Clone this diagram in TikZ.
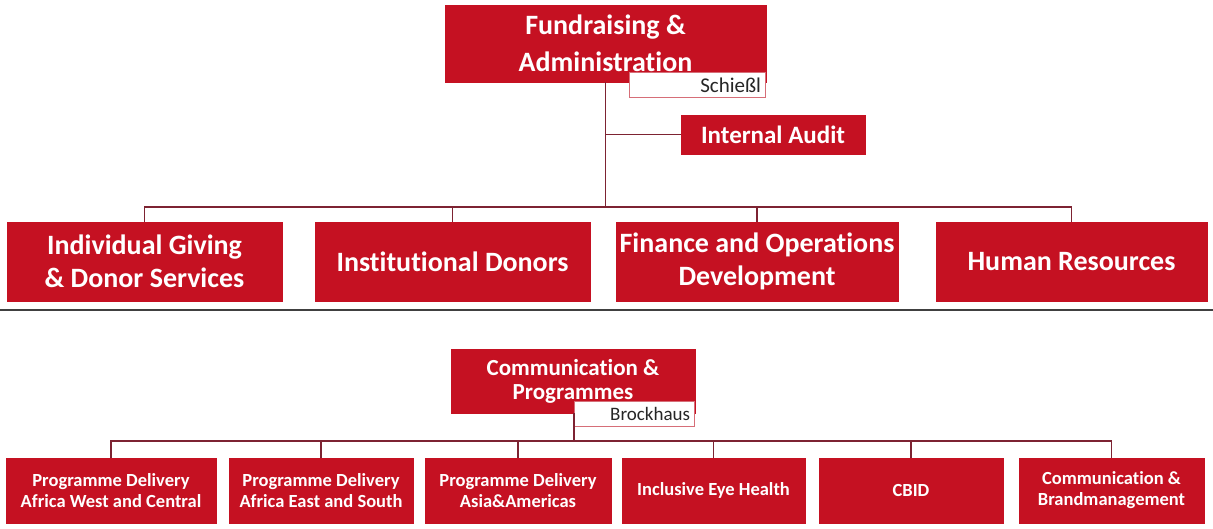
\documentclass[tikz,border=0pt]{standalone}
\usepackage{fontspec}
\setmainfont[Ligatures=CommonOff]{Carlito}
\usepackage{xcolor}
\usetikzlibrary{positioning,calc}
\definecolor{unitred}{RGB}{197,17,34}
\definecolor{linkred}{RGB}{125,35,50}
\definecolor{tagline}{RGB}{214,110,120}

\begin{document}
\begin{tikzpicture}[x=0.5pt, y=-0.5pt,
    unit/.style={draw=unitred, fill=unitred, text=white, font=\bfseries, align=center, inner sep=0pt},
    big/.style={font=\bfseries\fontsize{14}{16.5}\selectfont, minimum height=39.5pt},
    small/.style={font=\bfseries\fontsize{9.25}{10.5}\selectfont, minimum height=32.5pt},
    tag/.style={draw=tagline, fill=white, text=black!85, inner xsep=2pt, inner ysep=0pt, align=right, minimum height=12.5pt},
    link/.style={draw=linkred, line width=0.9pt}
]
    \useasboundingbox (0,0) rectangle (1213,529);

    % Fundraising & Administration
    \node [unit, minimum width=160.5pt, minimum height=38.5pt, font=\bfseries\fontsize{14}{18.5}\selectfont] (fund) at (605.5,43.5) {Fundraising \&\\Administration};
    \node [tag, text width=64pt, font=\fontsize{10.5}{12}\selectfont] (schiessl) at (697,85) {Schießl};
    \node [unit, minimum width=92pt, minimum height=19.5pt, font=\bfseries\fontsize{12.5}{15}\selectfont] (audit) at (773,134.5) {Internal Audit};
    \coordinate (busA) at (605.5,207);
    \draw [link] (fund.south) -- (busA);
    \draw [link] (fund.south |- audit.west) -- (audit.west);

    % Departments top
    \foreach \name/\x/\w/\label in {igds/144.5/137.5pt/{Individual Giving\\\& Donor Services}, insd/452.5/137.5pt/{Institutional Donors}, fin/757/141pt/{Finance and Operations\\Development}, hr/1071.5/135.5pt/{Human Resources}} {
        \node [unit, big, minimum width=\w] (\name) at (\x,261.5) {\label};
        \draw [link] (busA) -| (\name.north);
    }

    % Separator
    \draw [black!75, line width=1.1pt] (0,310) -- (1213,310);

    % Communication & Programmes
    \node [unit, minimum width=122pt, minimum height=32pt, font=\bfseries\fontsize{11.5}{12}\selectfont] (comm) at (573,381) {Communication \&\\Programmes};
    \node [tag, text width=56pt, font=\fontsize{9.5}{11}\selectfont] (brock) at (634,413.5) {Brockhaus};
    \coordinate (busB) at (574,441);
    \draw [link] (busB |- comm.south) -- (busB);

    % Departments bottom
    \foreach \name/\x/\w/\label in {pdawc/111/105pt/{Programme Delivery\\Africa West and Central}, pdaes/321/92pt/{Programme Delivery\\Africa East and South}, pdaa/518/93pt/{Programme Delivery\\Asia\&Americas}, ieh/713.5/91.5pt/{Inclusive Eye Health}, cbid/911/92pt/{CBID}, brand/1111.5/92.5pt/{Communication \&\\Brandmanagement}} {
        \node [unit, small, minimum width=\w] (\name) at (\x,490.5) {\label};
        \draw [link] (busB) -| (\name.north);
    }
\end{tikzpicture}
\end{document}
